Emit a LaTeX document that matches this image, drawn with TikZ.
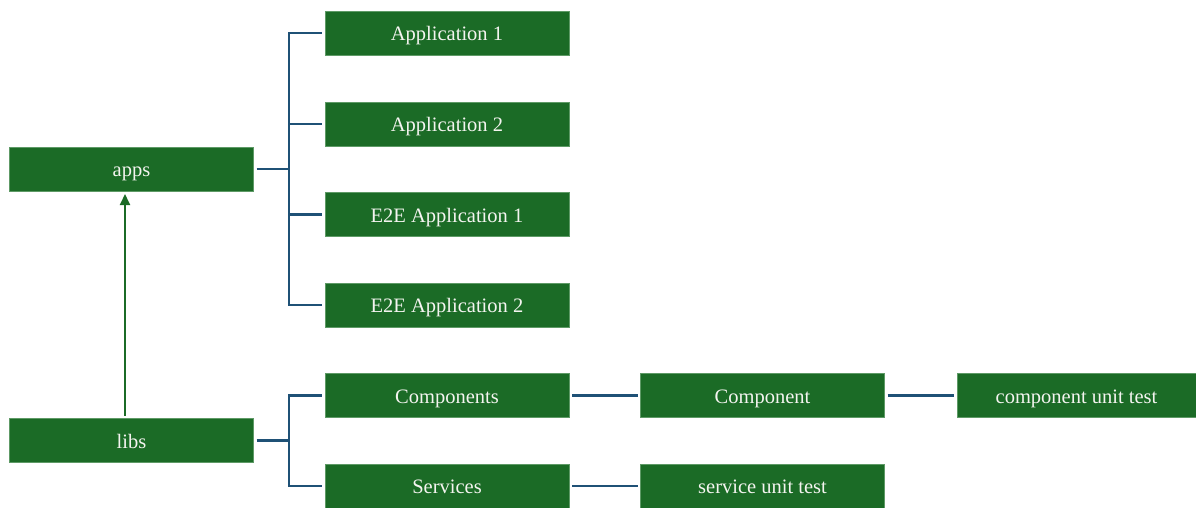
\documentclass[tikz,border=0pt]{standalone}
\usepackage{fontspec}
\setmainfont{Liberation Serif}
\usetikzlibrary{arrows.meta}
\definecolor{boxgreen}{HTML}{1B6B26}
\definecolor{boxedge}{HTML}{5E9A66}
\definecolor{linkblue}{HTML}{1F5176}
\definecolor{textwhite}{HTML}{F4F4F0}
\tikzset{
  folder/.style={rectangle, fill=boxgreen, draw=boxedge, line width=0.6pt,
    minimum width=244pt, minimum height=44pt, inner sep=0pt, outer sep=3pt,
    text height=15pt, text depth=0pt,
    text=textwhite, font=\fontsize{20.5}{24}\selectfont},
  link/.style={draw=linkblue, line width=2.2pt},
  depends/.style={draw=boxgreen, line width=2pt,
    -{Triangle[length=11pt,width=10pt]}}
}
\begin{document}
\begin{tikzpicture}[x=1pt,y=-1pt]
  \useasboundingbox (0,0) rectangle (1196,507);
  % top-level folders
  \node[folder] (apps) at (131.5,169) {apps};
  \node[folder] (libs) at (131.5,440.5) {libs};
  % applications
  \node[folder] (app1) at (447,33) {Application 1};
  \node[folder] (app2) at (447,124) {Application 2};
  \node[folder] (e2e1) at (447,214.5) {E2E Application 1};
  \node[folder] (e2e2) at (447,305) {E2E Application 2};
  % libraries
  \node[folder] (comps) at (447,395.5) {Components};
  \node[folder] (servs) at (447,486) {Services};
  \node[folder] (comp) at (762.5,395.5) {Component};
  \node[folder, minimum width=239pt] (cut) at (1076.5,395.5) {component unit test};
  \node[folder] (sut) at (762.5,486) {service unit test};
  % tree branches
  \coordinate (abus) at (289,169);
  \coordinate (lbus) at (289,440.5);
  \draw[link] (apps.east) -- (abus);
  \draw[link] (abus) |- (app1.west);
  \draw[link] (abus) |- (app2.west);
  \draw[link] (abus) |- (e2e1.west);
  \draw[link] (abus) |- (e2e2.west);
  \draw[link] (libs.east) -- (lbus);
  \draw[link] (lbus) |- (comps.west);
  \draw[link] (lbus) |- (servs.west);
  \draw[link] (comps.east) -- (comp.west);
  \draw[link] (comp.east) -- (cut.west);
  \draw[link] (servs.east) -- (sut.west);
  % libs feed apps
  \draw[depends] ([xshift=-6.5pt]libs.north) -- ([xshift=-6.5pt]apps.south);
\end{tikzpicture}
\end{document}
